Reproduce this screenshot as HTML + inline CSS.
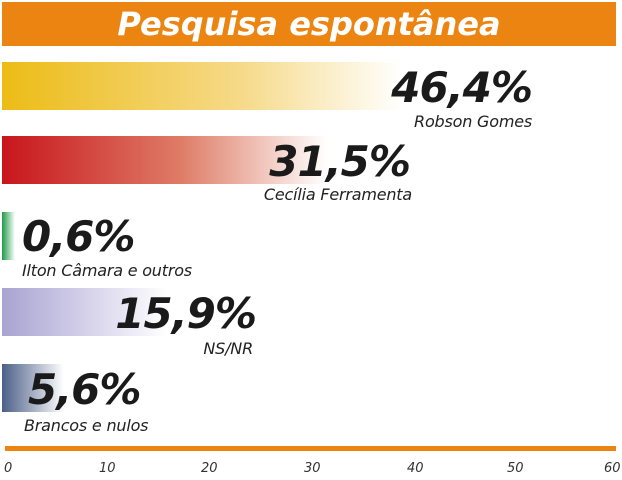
<!DOCTYPE html>
<html><head><meta charset="utf-8"><style>
body{margin:0;width:622px;height:480px;background:#fff;position:relative;overflow:hidden;font-family:"DejaVu Sans","Liberation Sans",sans-serif}
div{position:absolute}
.t{top:2px;left:2px;width:614px;height:44px;background:#ec8411;color:#fff;font-weight:bold;font-style:italic;font-size:32px;text-align:center;line-height:44px}
.b{height:48px;left:2px}
.v{font-weight:bold;font-style:italic;font-size:42px;color:#1a1a1a;line-height:48px;letter-spacing:-1px}
.n{font-style:italic;font-size:16px;color:#222;white-space:nowrap;letter-spacing:-0.2px}
.x{font-style:italic;font-size:13px;color:#333;top:461px}
</style></head><body>
<div class="t">Pesquisa espontânea</div>
<div class="b" style="top:62px;width:400px;background:linear-gradient(90deg,#ecbc16,#f6da8a 60%,#fff)"></div>
<div class="v" style="top:64px;right:90px">46,4%</div>
<div class="n" style="top:112px;right:90px">Robson Gomes</div>
<div class="b" style="top:136px;width:325px;background:linear-gradient(90deg,#c8151c,#de7c66 55%,#fff)"></div>
<div class="v" style="top:138px;right:212px">31,5%</div>
<div class="n" style="top:185px;right:210px">Cecília Ferramenta</div>
<div class="b" style="top:212px;width:13px;background:linear-gradient(90deg,#1f9a45,#fff)"></div>
<div class="v" style="top:213px;left:22px">0,6%</div>
<div class="n" style="top:261px;left:22px">Ilton Câmara e outros</div>
<div class="b" style="top:288px;width:165px;background:linear-gradient(90deg,#a9a3d1,#dcd9ee 60%,#fff)"></div>
<div class="v" style="top:290px;right:366px">15,9%</div>
<div class="n" style="top:339px;right:369px">NS/NR</div>
<div class="b" style="top:364px;width:62px;background:linear-gradient(90deg,#4c5f88,#fff)"></div>
<div class="v" style="top:366px;left:28px">5,6%</div>
<div class="n" style="top:416px;left:24px">Brancos e nulos</div>
<div style="top:446px;left:5px;width:611px;height:5px;background:#ec8411"></div>
<div class="x" style="left:4px">0</div>
<div class="x" style="left:99px">10</div>
<div class="x" style="left:201px">20</div>
<div class="x" style="left:304px">30</div>
<div class="x" style="left:407px">40</div>
<div class="x" style="left:507px">50</div>
<div class="x" style="left:604px">60</div>
</body></html>
